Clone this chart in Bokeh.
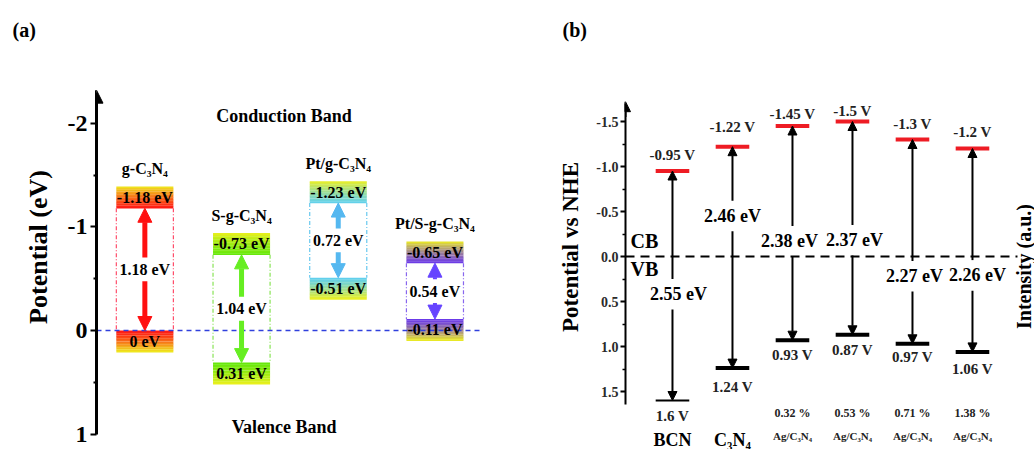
import math
from bokeh.plotting import figure
from bokeh.models import Range1d, FixedTicker, Arrow, NormalHead, Label
from bokeh.layouts import row
from bokeh.core.properties import value
from bokeh.embed import file_html
from bokeh.resources import INLINE

# ---------------- data: panel (a) ----------------
mat_a = ["g-C₃N₄", "S-g-C₃N₄", "Pt/g-C₃N₄", "Pt/S-g-C₃N₄"]
cb_a = [-1.18, -0.73, -1.23, -0.65]
vb_a = [0.0, 0.31, -0.51, -0.11]
gap_a = [1.18, 1.04, 0.72, 0.54]
ticks_a = [-2, -1, 0, 1]
tick_labels_a = ["-2", "-1", "0", "1"]
minor_a = [-1.5, -0.5, 0.5]

# ---------------- data: panel (b) ----------------
names_b = ["BCN", "C₃N₄", "Ag/C₃N₄", "Ag/C₃N₄", "Ag/C₃N₄", "Ag/C₃N₄"]
load_b = ["", "", "0.32 %", "0.53 %", "0.71 %", "1.38 %"]
cb_b = [-0.95, -1.22, -1.45, -1.5, -1.3, -1.2]
vb_b = [1.6, 1.24, 0.93, 0.87, 0.97, 1.06]
gap_b = [2.55, 2.46, 2.38, 2.37, 2.27, 2.26]
gap_label_y_b = [0.42, -0.45, -0.17, -0.18, 0.22, 0.21]
ticks_b = [-1.5, -1.0, -0.5, 0.0, 0.5, 1.0, 1.5]
tick_labels_b = ["-1.5", "-1.0", "-0.5", "0.0", "0.5", "1.0", "1.5"]
minor_b = [-1.25, -0.75, -0.25, 0.25, 0.75, 1.25]

SERIF = "Liberation Serif"
H = 449
W_A, W_B = 520, 514
TOP = 44  # space above the frame holding the panel letter

def mix(c1, c2, t):
    r = [round(a + (b - a) * t) for a, b in zip(c1, c2)]
    return "#%02x%02x%02x" % tuple(r)

def style_common(p, offset):
    p.outline_line_color = None
    p.grid.visible = False
    p.background_fill_color = "white"
    p.border_fill_color = "white"
    p.title.align = "left"
    p.title.offset = offset
    p.title.standoff = 8
    p.title.text_font = SERIF
    p.title.text_font_style = "bold"
    p.title.text_font_size = "20px"
    p.title.text_color = "black"

# =============== panel (a) =================
A0, AS = 330.0, 103.6   # pixel row of 0 eV, px per eV
pa = figure(width=W_A, height=H, output_backend="svg", toolbar_location=None,
            title="(a)",
            x_range=Range1d(0.5, 4.833),
            y_range=Range1d((H - A0) / AS, (TOP - A0) / AS),
            x_axis_location=None, min_border_left=96, min_border_right=5,
            min_border_top=TOP, min_border_bottom=0)
style_common(pa, -84)
ya = pa.yaxis[0]
ya.ticker = FixedTicker(ticks=ticks_a, minor_ticks=minor_a)
ya.major_label_overrides = {t: l for t, l in zip(ticks_a, tick_labels_a)}
ya.bounds = (-2.3, 1.0)
ya.axis_line_width = 3
ya.axis_line_color = "black"
ya.major_tick_line_width = 2
ya.major_tick_out = 6
ya.major_tick_in = 0
ya.minor_tick_line_width = 2
ya.minor_tick_out = 3
ya.minor_tick_in = 0
ya.major_label_standoff = 3
ya.major_label_text_font = SERIF
ya.major_label_text_font_size = "24px"
ya.major_label_text_font_style = "bold"
ya.major_label_text_color = "black"
ya.axis_label = "Potential (eV)"
ya.axis_label_text_font = SERIF
ya.axis_label_text_font_size = "26px"
ya.axis_label_text_font_style = "bold"
ya.axis_label_text_color = "black"
ya.axis_label_standoff = 12

pa.add_layout(Arrow(x_start=0.5, y_start=-2.0, x_end=0.5, y_end=-2.32,
                    end=NormalHead(size=13, fill_color="black", line_color="black"),
                    line_color="black", line_width=3))

YEL = (238, 240, 30)
base_a = [(255, 20, 20), (100, 232, 10), (95, 208, 240), (105, 55, 235)]
arrow_a = ["#ff1010", "#66ee22", "#55b8f0", "#6644ff"]
dash_a = ["#ff4d6a", "#88e455", "#66c8ee", "#8866ee"]
BAND = 0.21
HALF = 0.295
NSTRIP = 14

L, R, T, B, C = [], [], [], [], []
for i in range(4):
    x = i + 1
    for k in range(NSTRIP):
        t = (k + 0.5) / NSTRIP
        top = cb_a[i] - BAND + BAND * k / NSTRIP
        L.append(x - HALF); R.append(x + HALF)
        T.append(top); B.append(top + BAND / NSTRIP + 0.002)
        C.append(mix(YEL, base_a[i], t ** 0.8))
        top = vb_a[i] + BAND * k / NSTRIP
        L.append(x - HALF); R.append(x + HALF)
        T.append(top); B.append(top + BAND / NSTRIP + 0.002)
        C.append(mix(base_a[i], YEL, t ** 1.25))
pa.quad(left=L, right=R, top=T, bottom=B, fill_color=C, line_color=None)

xs_a = [i + 1 for i in range(4)]
pa.segment(x0=[x - HALF for x in xs_a], y0=cb_a, x1=[x - HALF for x in xs_a], y1=vb_a,
           line_color=dash_a, line_width=1.2, line_dash="4 2 1 2")
pa.segment(x0=[x + HALF for x in xs_a], y0=cb_a, x1=[x + HALF for x in xs_a], y1=vb_a,
           line_color=dash_a, line_width=1.2, line_dash="4 2 1 2")

pa.segment(x0=[0.5], y0=[0], x1=[4.5], y1=[0], line_color="#3040dd", line_width=1.5,
           line_dash="5 4")

GAP = 0.115
for i in range(4):
    x = i + 1
    mid = (cb_a[i] + vb_a[i]) / 2
    c = arrow_a[i]
    lw = 5 if i < 3 else 4
    pa.add_layout(Arrow(x_start=x, y_start=mid - GAP, x_end=x, y_end=cb_a[i],
                        end=NormalHead(size=14, fill_color=c, line_color=c),
                        line_color=c, line_width=lw))
    pa.add_layout(Arrow(x_start=x, y_start=mid + GAP, x_end=x, y_end=vb_a[i],
                        end=NormalHead(size=14, fill_color=c, line_color=c),
                        line_color=c, line_width=lw))

txt = dict(text_font=value(SERIF), text_font_style="bold", text_color="black",
           text_align="center", text_baseline="middle")
pa.text(x=xs_a, y=[v - BAND / 2 for v in cb_a], text=[f"{v:g} eV" for v in cb_a],
        text_font_size="16px", **txt)
pa.text(x=xs_a, y=[v + BAND / 2 for v in vb_a], text=[f"{v:g} eV" for v in vb_a],
        text_font_size="16px", **txt)
pa.text(x=xs_a, y=[(c + v) / 2 for c, v in zip(cb_a, vb_a)],
        text=[f"{g:.2f} eV" for g in gap_a], text_font_size="16px", **txt)
pa.text(x=xs_a, y=[v - BAND for v in cb_a], text=mat_a, y_offset=-18,
        text_font_size="16px", **txt)
pa.text(x=[2.44], y=[-2.075], text=["Conduction Band"], text_font_size="18px", **txt)
pa.text(x=[2.44], y=[0.936], text=["Valence Band"], text_font_size="18px", **txt)

# =============== panel (b) =================
B0, BS = 256.0, 90.0   # pixel row of 0 V, px per V
XL = 0.217
pb = figure(width=W_B, height=H, output_backend="svg", toolbar_location=None,
            title="(b)",
            x_range=Range1d(XL, XL + (W_B - 105) / 60.0),
            y_range=Range1d((H - B0) / BS, (TOP - B0) / BS),
            x_axis_location=None, min_border_left=105, min_border_right=0,
            min_border_top=TOP, min_border_bottom=0)
style_common(pb, -63)
yb = pb.yaxis[0]
yb.ticker = FixedTicker(ticks=ticks_b, minor_ticks=minor_b)
yb.major_label_overrides = {t: l for t, l in zip(ticks_b, tick_labels_b)}
yb.bounds = (-1.70, 1.64)
yb.axis_line_width = 2
yb.axis_line_color = "black"
yb.major_tick_line_width = 2
yb.major_tick_out = 5
yb.major_tick_in = 0
yb.minor_tick_line_width = 1.5
yb.minor_tick_out = 3
yb.minor_tick_in = 0
yb.major_label_standoff = 2
yb.major_label_text_font = SERIF
yb.major_label_text_font_size = "14px"
yb.major_label_text_font_style = "bold"
yb.major_label_text_color = "#2a2a2a"
yb.axis_label = "Potential vs NHE"
yb.axis_label_text_font = SERIF
yb.axis_label_text_font_size = "23px"
yb.axis_label_text_font_style = "bold"
yb.axis_label_text_color = "black"
yb.axis_label_standoff = 10

pb.add_layout(Arrow(x_start=XL, y_start=-1.55, x_end=XL, y_end=-1.72,
                    end=NormalHead(size=10, fill_color="black", line_color="black"),
                    line_color="black", line_width=2))

xs_b = [i + 1 for i in range(6)]
BH = 0.28
pb.segment(x0=[XL], y0=[0], x1=[6.75], y1=[0], line_color="black", line_width=2,
           line_dash="9 6")
pb.segment(x0=[x - BH for x in xs_b], y0=cb_b, x1=[x + BH for x in xs_b], y1=cb_b,
           line_color="#ee1c24", line_width=4)
vb_lw = [2, 4, 4, 4, 4, 4]
pb.segment(x0=[x - BH for x in xs_b], y0=vb_b, x1=[x + BH for x in xs_b], y1=vb_b,
           line_color="black", line_width=vb_lw)

GB = 0.17
for i in range(6):
    x = xs_b[i]
    gy = gap_label_y_b[i]
    pb.add_layout(Arrow(x_start=x, y_start=gy - GB, x_end=x, y_end=cb_b[i],
                        end=NormalHead(size=9, fill_color="black", line_color="black"),
                        line_color="black", line_width=2))
    pb.add_layout(Arrow(x_start=x, y_start=gy + GB, x_end=x, y_end=vb_b[i],
                        end=NormalHead(size=9, fill_color="black", line_color="black"),
                        line_color="black", line_width=2))

dark = {**txt, "text_color": "#222222"}
cb_off = [-16, -20, -12, -11, -16, -17]
vb_off = [15, 19, 15, 15, 13, 17]
gap_xoff = [6, 0, -3, 2, 2, 5]
pb.text(x=xs_b, y=cb_b, text=[f"{v:g} V" for v in cb_b], y_offset=cb_off,
        text_font_size="15px", **dark)
pb.text(x=xs_b, y=vb_b, text=[f"{v:g} V" for v in vb_b], y_offset=vb_off,
        text_font_size="15px", **dark)
pb.text(x=xs_b, y=gap_label_y_b, text=[f"{g:.2f} eV" for g in gap_b],
        x_offset=gap_xoff, text_font_size="18px", **txt)
pb.text(x=[0.30, 0.30], y=[-0.17, 0.14], text=["CB", "VB"], text_font_size="20px",
        **{**txt, "text_align": "left"})
pb.text(x=xs_b, y=[1.744] * 6, text=load_b, text_font_size="12px", **dark)
pb.text(x=xs_b[:2], y=[2.04, 2.04], text=names_b[:2], text_font_size="18px", **txt)
pb.text(x=xs_b[2:], y=[1.99] * 4, text=names_b[2:], text_font_size="11px", **dark)

pb.add_layout(Label(x=1023 - 625, y=H - 266, x_units="screen", y_units="screen",
                    text="Intensity (a.u.)", angle=math.pi / 2,
                    text_font=SERIF, text_font_style="bold", text_font_size="20px",
                    text_baseline="middle", text_align="center", text_color="black"))

layout = row(pa, pb)
open("out.html", "w").write(file_html(layout, INLINE))
